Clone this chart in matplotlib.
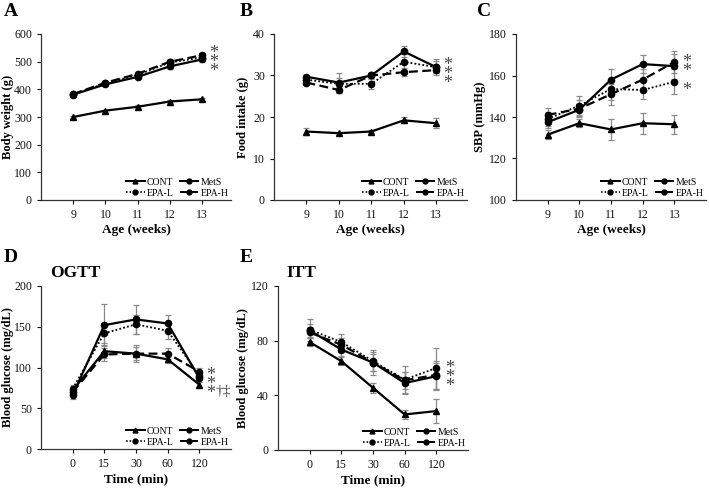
import matplotlib
matplotlib.use("Agg")
import matplotlib.pyplot as plt
from matplotlib.lines import Line2D

plt.rcParams['font.family'] = ['Liberation Serif', 'DejaVu Serif']

# ---------------- data ----------------
weeks = [9, 10, 11, 12, 13]
time_labels = ["0", "15", "30", "60", "120"]
groups = ["CONT", "MetS", "EPA-L", "EPA-H"]

bw_cont = [300, 323, 337, 356, 364]
bw_mets = [381, 418, 445, 483, 508]
bw_epal = [382, 422, 452, 497, 515]
bw_epah = [383, 424, 456, 500, 523]
bw_err_cont = [4, 4, 5, 5, 5]
bw_err_mets = [6, 7, 8, 8, 9]
bw_err_epal = [6, 7, 8, 8, 9]
bw_err_epah = [6, 7, 8, 8, 9]

fi_cont = [16.5, 16.1, 16.5, 19.2, 18.5]
fi_mets = [29.7, 28.3, 30.0, 35.8, 32.0]
fi_epal = [29.0, 28.0, 28.0, 33.3, 32.0]
fi_epah = [28.3, 26.5, 30.0, 30.8, 31.3]
fi_err_cont = [0.8, 0.4, 0.3, 0.7, 1.2]
fi_err_mets = [0.5, 2.4, 0.7, 1.3, 1.5]
fi_err_epal = [0.7, 1.5, 1.2, 2.0, 2.0]
fi_err_epah = [0.5, 0.8, 0.7, 1.0, 0.8]

sbp_cont = [131.5, 137.0, 134.0, 137.0, 136.5]
sbp_mets = [137.5, 143.5, 158.0, 165.5, 164.5]
sbp_epal = [139.0, 145.5, 153.5, 153.0, 157.0]
sbp_epah = [141.0, 144.0, 151.0, 158.0, 166.5]
sbp_err_cont = [2.0, 2.0, 5.0, 5.0, 4.5]
sbp_err_mets = [3.0, 3.0, 5.0, 4.5, 6.0]
sbp_err_epal = [3.5, 4.5, 5.5, 4.5, 6.0]
sbp_err_epah = [3.5, 4.0, 5.0, 5.0, 5.5]

ogtt_cont = [72, 120, 117, 110, 79]
ogtt_mets = [66, 152, 159, 154, 87]
ogtt_epal = [74, 142, 153, 145, 90]
ogtt_epah = [70, 116, 117, 117, 95]
ogtt_err_cont = [5, 8, 8, 5, 3]
ogtt_err_mets = [5, 26, 18, 10, 5]
ogtt_err_epal = [4, 12, 12, 10, 5]
ogtt_err_epah = [4, 8, 10, 7, 4]

itt_cont = [79, 65, 45.5, 26, 28.5]
itt_mets = [87.5, 73.5, 64, 49, 54]
itt_epal = [88, 79, 65, 51.5, 60]
itt_epah = [86, 77, 64, 51, 55]
itt_err_cont = [3, 3, 3.5, 3.5, 9]
itt_err_mets = [5, 5, 9, 8, 10]
itt_err_epal = [8, 6, 7, 10, 15]
itt_err_epah = [4, 5, 6, 6, 10]

# ---------------- styles ----------------
styles = {
    "CONT": dict(ls='-', marker='^', lw=1.6, ms=4.5),
    "MetS": dict(ls='-', marker='o', lw=1.6, ms=4.5),
    "EPA-L": dict(ls=(0, (1, 1.2)), marker='o', lw=1.3, ms=4.5),
    "EPA-H": dict(ls=(0, (4, 2)), marker='o', lw=1.6, ms=4.5),
}

W, H = 709, 488
fig = plt.figure(figsize=(W / 100, H / 100), dpi=100)


def ax_at(l, t, w, b):
    return fig.add_axes([l / W, 1 - b / H, w / W, (b - t) / H])


def draw(ax, x, series, errs):
    for g, y, e in zip(groups, series, errs):
        st = styles[g]
        ax.errorbar(x, y, yerr=e, fmt='none', ecolor='#8a8a8a', elinewidth=0.9,
                    capsize=2.2, capthick=0.9, zorder=2)
        ax.plot(x, y, color='black', ls=st['ls'], lw=st['lw'], marker=st['marker'],
                ms=st['ms'], zorder=3)


def legend(ax):
    handles = {}
    for g in groups:
        st = styles[g]
        handles[g] = Line2D([], [], color='black', ls=st['ls'], lw=st['lw'] * 0.9,
                            marker=st['marker'], ms=3.5)
    order = ["CONT", "EPA-L", "MetS", "EPA-H"]
    ax.legend([handles[k] for k in order], order, ncol=2, loc='lower right',
              frameon=False, fontsize=7, handlelength=1.9, handletextpad=0.25,
              columnspacing=0.6, labelspacing=0.2, borderaxespad=0.0,
              borderpad=0.25)


def style_axes(ax, ylabel, xlabel, ylab_x):
    for s in ['top', 'right']:
        ax.spines[s].set_visible(False)
    for s in ['left', 'bottom']:
        ax.spines[s].set_linewidth(0.9)
        ax.spines[s].set_color('#333333')
    ax.tick_params(direction='out', length=3, width=0.8, labelsize=8.5, colors='#111111')
    ax.set_ylabel(ylabel, fontsize=9, fontweight='bold')
    ax.yaxis.set_label_coords(ylab_x, 0.5)
    ax.set_xlabel(xlabel, fontsize=9.5, fontweight='bold', labelpad=2)


def stars(ax, x, y, text, fs=13, ls=0.41):
    ax.annotate(text, (x, y), xytext=(0, -4), textcoords='offset points',
                fontsize=fs, color='#444444', ha='left', va='center',
                linespacing=ls, annotation_clip=False)


# ---------- A ----------
axA = ax_at(41, 34, 190, 200)
draw(axA, weeks, [bw_cont, bw_mets, bw_epal, bw_epah],
     [bw_err_cont, bw_err_mets, bw_err_epal, bw_err_epah])
axA.set_xlim(8, 13.9)
axA.set_ylim(0, 600)
axA.set_yticks(range(0, 601, 100))
axA.set_xticks(weeks)
style_axes(axA, "Body weight (g)", "Age (weeks)", -0.142)
legend(axA)
stars(axA, 13.22, 517, "*\n*\n*")

# ---------- B ----------
axB = ax_at(274, 34, 193, 200)
draw(axB, weeks, [fi_cont, fi_mets, fi_epal, fi_epah],
     [fi_err_cont, fi_err_mets, fi_err_epal, fi_err_epah])
axB.set_xlim(8, 13.95)
axB.set_ylim(0, 40)
axB.set_yticks(range(0, 41, 10))
axB.set_xticks(weeks)
style_axes(axB, "Food intake (g)", "Age (weeks)", -0.13)
legend(axB)
stars(axB, 13.22, 31.6, "*\n*\n*")

# ---------- C ----------
axC = ax_at(516, 34, 190, 200)
draw(axC, weeks, [sbp_cont, sbp_mets, sbp_epal, sbp_epah],
     [sbp_err_cont, sbp_err_mets, sbp_err_epal, sbp_err_epah])
axC.set_xlim(8, 14)
axC.set_ylim(100, 180)
axC.set_yticks(range(100, 181, 20))
axC.set_xticks(weeks)
style_axes(axC, "SBP (mmHg)", "Age (weeks)", -0.158)
legend(axC)
stars(axC, 13.25, 162.2, "*\n*\n\n*", ls=0.4)

# ---------- D ----------
pos = list(range(len(time_labels)))
axD = ax_at(41, 286, 190, 449)
draw(axD, pos, [ogtt_cont, ogtt_mets, ogtt_epal, ogtt_epah],
     [ogtt_err_cont, ogtt_err_mets, ogtt_err_epal, ogtt_err_epah])
axD.set_xlim(-1, 5)
axD.set_ylim(0, 200)
axD.set_yticks(range(0, 201, 50))
axD.set_xticks(pos)
axD.set_xticklabels(time_labels)
style_axes(axD, "Blood glucose (mg/dL)", "Time (min)", -0.142)
legend(axD)
stars(axD, 4.22, 86, "*\n*\n*")
axD.annotate("\u2020\u2021", (4.52, 71), fontsize=11, color='#444444',
             ha='left', va='center', annotation_clip=False)
axD.text(0.047, 1.08, "OGTT", transform=axD.transAxes, fontsize=12.5,
         fontweight='bold', ha='left', va='center')

# ---------- E ----------
axE = ax_at(278, 286, 190, 450)
draw(axE, pos, [itt_cont, itt_mets, itt_epal, itt_epah],
     [itt_err_cont, itt_err_mets, itt_err_epal, itt_err_epah])
axE.set_xlim(-1, 5)
axE.set_ylim(0, 120)
axE.set_yticks(range(0, 121, 40))
axE.set_xticks(pos)
axE.set_xticklabels(time_labels)
style_axes(axE, "Blood glucose (mg/dL)", "Time (min)", -0.153)
legend(axE)
stars(axE, 4.27, 57, "*\n*\n*")
axE.text(0.047, 1.08, "ITT", transform=axE.transAxes, fontsize=12.5,
         fontweight='bold', ha='left', va='center')

# ---------- panel letters ----------
for lbl, x, y in [("A", 4, 12), ("B", 240, 12), ("C", 477, 12),
                  ("D", 4, 258), ("E", 240, 258)]:
    fig.text(x / W, 1 - y / H, lbl, fontsize=14, fontweight='bold',
             ha='left', va='center')

fig.savefig("out.png", dpi=100)
